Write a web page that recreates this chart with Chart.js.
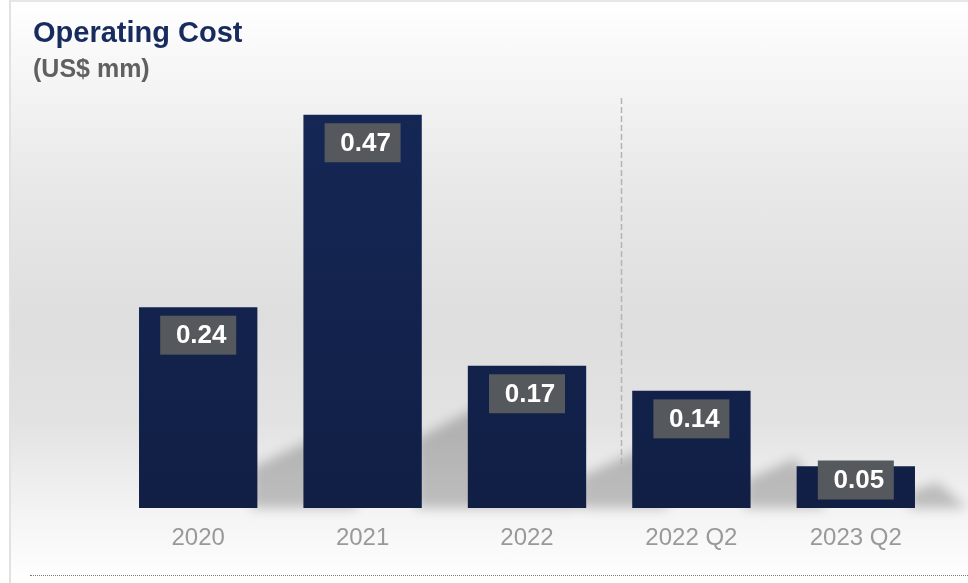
<!DOCTYPE html>
<html>
<head>
<meta charset="utf-8">
<script src="https://cdn.jsdelivr.net/npm/chart.js@4/dist/chart.umd.min.js"></script>
<style>
  html, body { margin: 0; padding: 0; background: #fff; }
  body { width: 968px; height: 583px; overflow: hidden; position: relative; font-family: "Liberation Sans", Arial, sans-serif; }
  .panel {
    position: absolute; left: 9px; top: 0; width: 959px; height: 583px;
    border-left: 2px solid #e2e2e2; border-top: 2px solid #e6e6e6; box-sizing: border-box;
    background: linear-gradient(to bottom, #ffffff 0%, #f6f6f6 12%, #e9e9e9 30%, #dedede 55%, #e2e2e2 72%, #f4f4f4 88%, #ffffff 100%);
  }
  .title { position: absolute; left: 33px; top: 18px; font-size: 29px; font-weight: bold; color: #172b5e; line-height: 1; }
  .subtitle { position: absolute; left: 33px; top: 56px; font-size: 25px; font-weight: bold; color: #606060; line-height: 1; }
  .rule { position: absolute; left: 30px; right: 0; top: 575px; border-top: 1px dotted #7a7a7a; }
  #wrap { position: absolute; left: 0; top: 0; width: 968px; height: 583px; }
</style>
</head>
<body>
<div class="panel"></div>
<div id="wrap"><canvas id="costChart"></canvas></div>
<div class="title">Operating Cost</div>
<div class="subtitle">(US$ mm)</div>
<div class="rule"></div>
<script>
const periods = ['2020', '2021', '2022', '2022 Q2', '2023 Q2'];
const operatingCost = [0.24, 0.47, 0.17, 0.14, 0.05];
const yMax = 0.49;
// annual figures on the left, quarterly on the right
const dividerAt = 2.57;

const barShadows = {
  id: 'barShadows',
  beforeDatasetsDraw(chart) {
    const ctx = chart.ctx;
    const bars = chart.getDatasetMeta(0).data;
    ctx.save();
    ctx.filter = 'blur(6px)';
    ctx.fillStyle = 'rgba(0,0,0,0.22)';
    bars.forEach(bar => {
      const right = bar.x + bar.width / 2;
      const h = bar.base - bar.y;
      ctx.beginPath();
      ctx.moveTo(right - 6, bar.base);
      ctx.lineTo(right - 6, bar.base - 0.15 * h - 10);
      ctx.lineTo(right + 0.3 * h + 10, bar.base - 0.32 * h - 12);
      ctx.lineTo(right + 0.3 * h + 40, bar.base);
      ctx.closePath();
      ctx.fill();
    });
    ctx.restore();
  }
};

const divider = {
  id: 'divider',
  beforeDatasetsDraw(chart) {
    const ctx = chart.ctx;
    const x = Math.round(chart.scales.x.getPixelForValue(dividerAt)) + 0.5;
    ctx.save();
    ctx.strokeStyle = '#b4b4b4';
    ctx.lineWidth = 1.5;
    ctx.setLineDash([6, 3]);
    ctx.beginPath();
    ctx.moveTo(x, chart.chartArea.top);
    ctx.lineTo(x, chart.scales.y.getPixelForValue(0.045));
    ctx.stroke();
    ctx.restore();
  }
};

const valueBoxes = {
  id: 'valueBoxes',
  afterDatasetsDraw(chart) {
    const ctx = chart.ctx;
    const bars = chart.getDatasetMeta(0).data;
    ctx.save();
    ctx.font = 'bold 26px "Liberation Sans", Arial, sans-serif';
    ctx.textAlign = 'center';
    ctx.textBaseline = 'middle';
    bars.forEach((bar, i) => {
      const cy = Math.min(bar.y + 28, bar.base - 28);
      ctx.fillStyle = '#55585c';
      ctx.fillRect(bar.x - 38, cy - 19.5, 76, 39);
      ctx.fillStyle = '#ffffff';
      ctx.fillText(operatingCost[i].toFixed(2), bar.x + 3, cy + 1);
    });
    ctx.restore();
  }
};

const ctx = document.getElementById('costChart').getContext('2d');
new Chart(ctx, {
  type: 'bar',
  data: {
    labels: periods,
    datasets: [{
      label: 'Operating Cost',
      data: operatingCost,
      backgroundColor: (c) => {
        const area = c.chart.chartArea;
        if (!area) return '#13244f';
        const g = c.chart.ctx.createLinearGradient(0, area.top, 0, area.bottom);
        g.addColorStop(0, '#152756');
        g.addColorStop(1, '#111f45');
        return g;
      },
      borderWidth: 0,
      barPercentage: 0.72,
      categoryPercentage: 1
    }]
  },
  options: {
    responsive: true,
    maintainAspectRatio: false,
    animation: false,
    layout: { padding: { left: 33, right: 30, top: 98, bottom: 30 } },
    plugins: { legend: { display: false }, tooltip: { enabled: false } },
    scales: {
      x: {
        grid: { display: false, drawTicks: false },
        border: { display: false },
        ticks: { color: '#999999', font: { family: '"Liberation Sans", Arial, sans-serif', size: 24 }, padding: 16 },
        afterFit: (s) => { s.height = 45; }
      },
      y: {
        min: 0,
        max: yMax,
        grid: { display: false },
        border: { display: false },
        ticks: { display: false },
        afterFit: (s) => { s.width = 83; }
      }
    }
  },
  plugins: [barShadows, divider, valueBoxes]
});
</script>
</body>
</html>
